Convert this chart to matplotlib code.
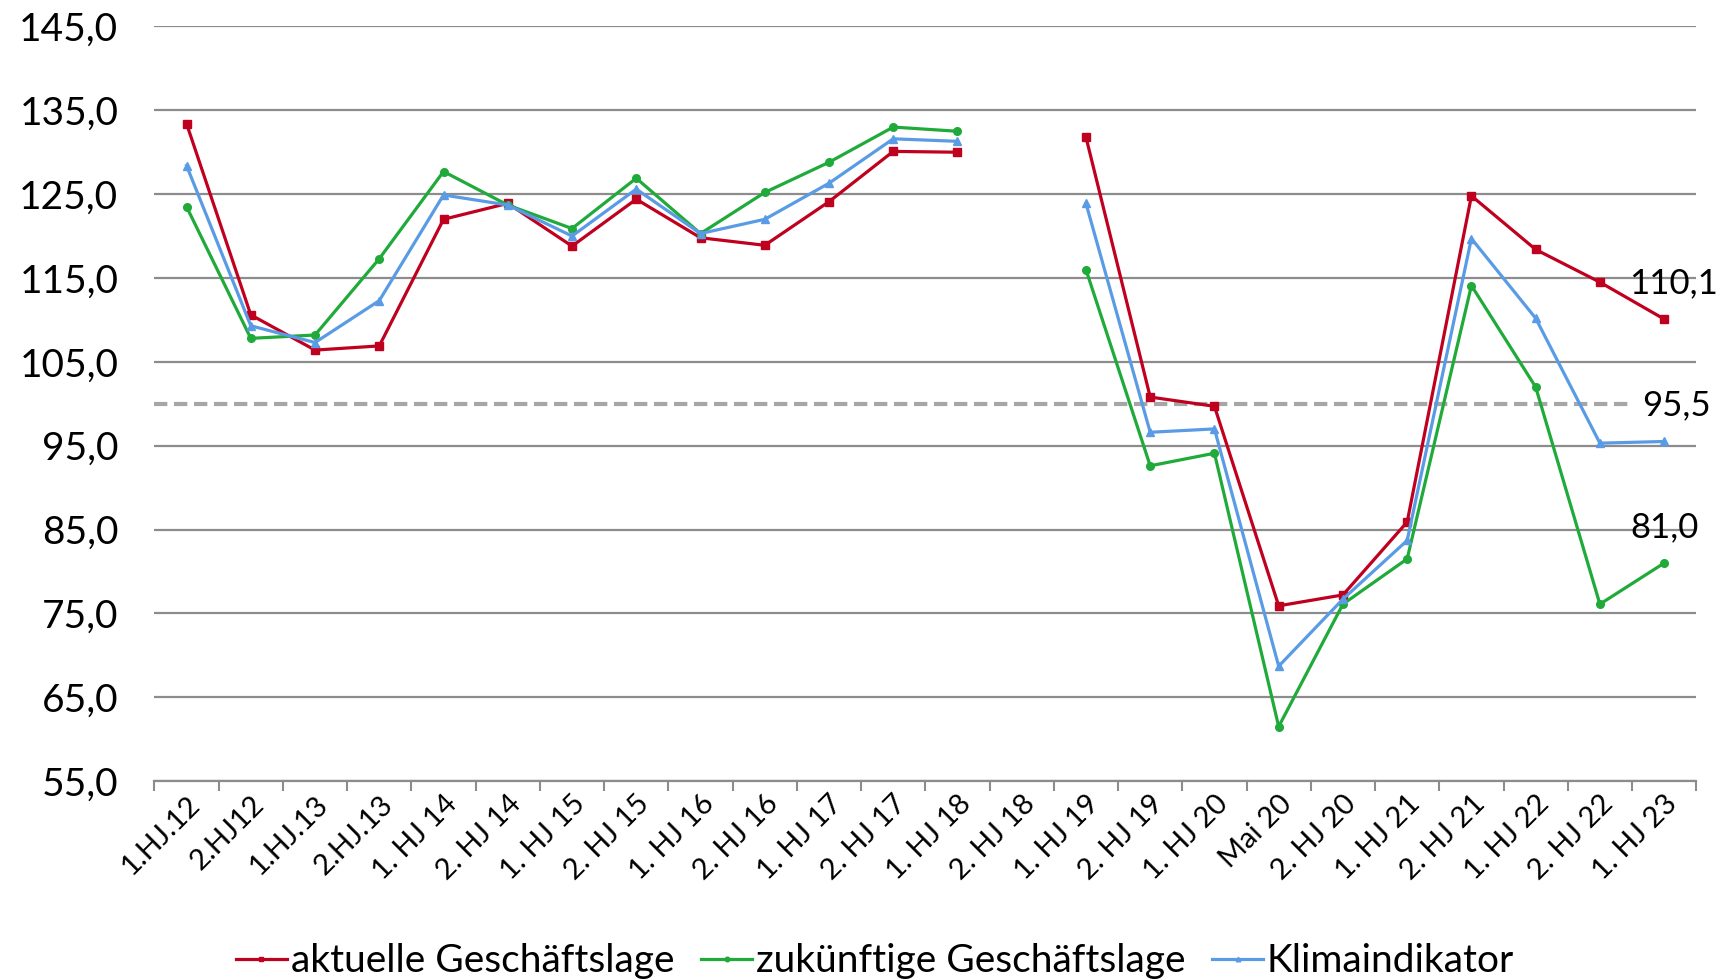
import numpy as np
import matplotlib.pyplot as plt

# Kategorien (Halbjahre), 2. HJ 18 ohne Werte
kategorien = ["1.HJ.12", "2.HJ12", "1.HJ.13", "2.HJ.13", "1. HJ 14", "2. HJ 14",
              "1. HJ 15", "2. HJ 15", "1. HJ 16", "2. HJ 16", "1. HJ 17", "2. HJ 17",
              "1. HJ 18", "2. HJ 18", "1. HJ 19", "2. HJ 19", "1. HJ 20", "Mai 20",
              "2. HJ 20", "1. HJ 21", "2. HJ 21", "1. HJ 22", "2. HJ 22", "1. HJ 23"]

aktuelle = [133.4, 110.6, 106.4, 106.9, 122.0, 123.9, 118.8, 124.4, 119.8, 118.9,
            124.1, 130.1, 130.0, np.nan, 131.8, 100.8, 99.7, 75.9, 77.2, 85.9,
            124.8, 118.4, 114.5, 110.1]
zukuenftige = [123.5, 107.8, 108.2, 117.3, 127.7, 123.7, 120.9, 126.9, 120.3, 125.2,
               128.8, 133.0, 132.5, np.nan, 116.0, 92.6, 94.1, 61.5, 76.1, 81.5,
               114.1, 102.0, 76.1, 81.0]
klima = [128.4, 109.3, 107.3, 112.3, 124.9, 123.7, 120.0, 125.6, 120.3, 122.0,
         126.3, 131.6, 131.3, np.nan, 123.9, 96.6, 97.0, 68.7, 76.7, 83.7,
         119.7, 110.2, 95.3, 95.5]

referenz = 100.0

plt.rcParams['font.family'] = ['Lato', 'DejaVu Sans']

fig = plt.figure(figsize=(17.16, 9.8), dpi=100)
ax = fig.add_axes([0.09, 0.203, 0.8985, 0.770])

x = np.arange(len(kategorien))

# Gitterlinien
for v in np.arange(55, 146, 10):
    ax.axhline(v, color='#8c8c8c', lw=1.6, zorder=1)

ax.hlines(referenz, -0.5, 22.5, colors='#a6a6a6', linestyles=(0, (3.2, 1.6)), lw=3, zorder=2)

ax.plot(x, aktuelle, color='#c0001f', lw=2.3, marker='s', ms=5.5, label='aktuelle Geschäftslage', zorder=3)
ax.plot(x, zukuenftige, color='#1faa3a', lw=2.3, marker='o', ms=5.5, label='zukünftige Geschäftslage', zorder=3)
ax.plot(x, klima, color='#5a9be6', lw=2.3, marker='^', ms=5.5, label='Klimaindikator', zorder=3)

# Datenbeschriftungen am Ende
versatz = {0: (7, 26), 1: (9, 26), 2: (0, 26)}
for i, serie in enumerate((aktuelle, klima, zukuenftige)):
    wert = serie[-1]
    ax.annotate(f"{wert:.1f}".replace('.', ','), (x[-1], wert), xytext=versatz[i],
                textcoords='offset points', ha='center', va='center', fontsize=25, zorder=4,
                annotation_clip=False)

ax.set_xlim(-0.5, len(kategorien) - 0.5)
ax.set_ylim(55, 145)
ax.set_yticks(np.arange(55, 146, 10))
ax.set_yticklabels([f"{v:.1f}".replace('.', ',') for v in np.arange(55, 146, 10)], fontsize=28)
ax.tick_params(axis='y', length=0, pad=26)

ax.set_xticks(x)
ax.set_xticklabels(kategorien, rotation=45, ha='right', rotation_mode='anchor', fontsize=21)
ax.set_xticks(np.arange(-0.5, len(kategorien)), minor=True)
ax.tick_params(axis='x', which='major', length=0, pad=7)
ax.tick_params(axis='x', which='minor', length=7, color='#8c8c8c', width=1.5)

for s in ('top', 'right', 'left'):
    ax.spines[s].set_visible(False)
ax.spines['bottom'].set_color('#8c8c8c')
ax.spines['bottom'].set_linewidth(1.6)

fig.legend(loc='lower center', bbox_to_anchor=(0.51, -0.035), ncol=3, frameon=False,
           fontsize=28, handlelength=1.3, handletextpad=0.1, columnspacing=0.7, markerscale=0.6)

plt.savefig('out.png', dpi=100)
